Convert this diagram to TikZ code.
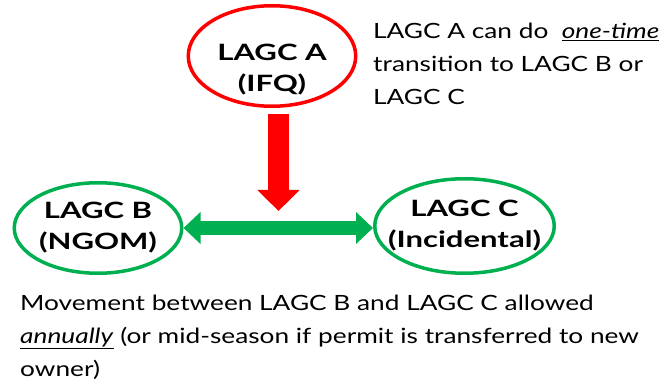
\documentclass[tikz,border=0pt]{standalone}
\usepackage{fontspec}
\setmainfont{Lato}[FakeStretch=1.25,BoldFeatures={FakeStretch=1.38}]
\usetikzlibrary{positioning,arrows.meta,shapes.geometric}
\definecolor{permgreen}{RGB}{0,176,80}
\definecolor{permred}{RGB}{255,0,0}

\begin{document}
\begin{tikzpicture}[x=1pt,y=-1pt,
  font=\fontsize{21}{33}\selectfont,
  cat/.style={ellipse,draw,line width=3.5pt,inner xsep=-50pt,inner ysep=-10pt,align=center,font=\fontsize{22.5}{31}\selectfont\bfseries},
  note/.style={anchor=north west,inner sep=0pt,align=left},
  oneway/.style={-{Triangle[length=21pt,width=41pt]},line width=21pt,permred},
  twoway/.style={{Triangle[length=17pt,width=31pt]}-{Triangle[length=17pt,width=31pt]},line width=14pt,permgreen},
]
\fill[white] (0,0) rectangle (669,382);
\useasboundingbox (0,0) rectangle (669,382);

% permit categories (A's text sits low in its ring)
\node[cat,draw=permred,minimum width=167.5pt,minimum height=100.5pt,text height=76pt,text depth=5pt] (lagca) at (272,56) {LAGC A\\(IFQ)};
\node[cat,draw=permgreen,minimum width=167.5pt,minimum height=90.5pt] (lagcb) at (98,228) {LAGC B\\(NGOM)};
\node[cat,draw=permgreen,minimum width=179.5pt,minimum height=94.5pt] (lagcc) at (464.5,226) {LAGC C\\(Incidental)};

% one-time transition and yearly movement
\coordinate (drop) at (278.5,211);
\draw[oneway] ([yshift=-6pt]lagca.south -| drop) -- (drop);
\draw[twoway] (lagcb.east) -- (lagcb.east -| lagcc.west);

% notes
\node[note] (topnote) at (373,22.5) {LAGC A can do~ \underline{\textit{one-time}}\\transition to LAGC B or\\LAGC C};
\node[note] (botnote) at (20,294.5) {Movement between LAGC B and LAGC C allowed\\\underline{\textit{annually}} (or mid-season if permit is transferred to new\\owner)};
\end{tikzpicture}
\end{document}
